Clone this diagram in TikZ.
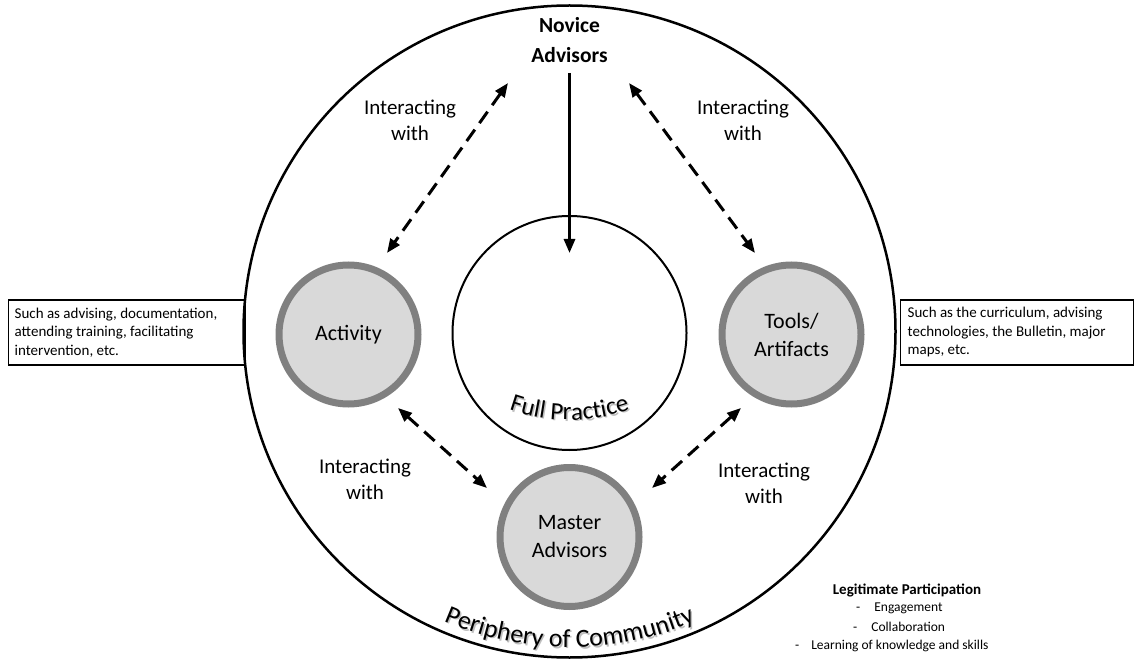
\documentclass[tikz,border=0pt]{standalone}
\usepackage{fontspec}
\setmainfont{Carlito}
\usetikzlibrary{arrows.meta,decorations.text}
\definecolor{cfill}{HTML}{D9D9D9}
\definecolor{cring}{HTML}{808080}
\begin{document}
\begin{tikzpicture}[x=1pt,y=1pt,
  agent/.style={circle, draw=cring, line width=7pt, fill=cfill, minimum size=139pt, inner sep=0pt, align=center, font=\fontsize{22}{28}\selectfont},
  lbl/.style={align=center, font=\fontsize{21}{26}\selectfont},
  sidebox/.style={draw, line width=1.3pt, anchor=west, minimum height=65pt, align=flush left, font=\fontsize{15}{18.5}\selectfont},
  solidarrow/.style={line width=3pt, -{Triangle[length=14pt,width=11pt]}},
  dasharrow/.style={line width=3pt, dash pattern=on 14pt off 8pt, {Triangle[length=14pt,width=11pt]}-{Triangle[length=14pt,width=11pt]}},
  bullet/.style={anchor=west, inner sep=0pt, font=\fontsize{13.5}{16}\selectfont}
]
\useasboundingbox (0,0) rectangle (1138,665);

% side boxes
\node[sidebox, text width=225pt, inner xsep=6pt] (lbox) at (8,332.5) {Such as advising, documentation,\\ attending training, facilitating\\ intervention, etc.};
\node[sidebox, text width=219pt, inner xsep=7pt] (rbox) at (900,332.5) {Such as the curriculum, advising\\ technologies, the Bulletin, major\\ maps, etc.};

% circles
\node[circle, draw, line width=2.5pt, minimum size=652pt, inner sep=0pt] (periph) at (569.5,333.5) {};
\node[circle, draw, line width=2pt, minimum size=234pt, inner sep=0pt] (full) at (569.5,332) {};

\node[agent] (act) at (348.5,330.5) {Activity};
\node[agent] (tools) at (791.5,330.5) {Tools/\\Artifacts};
\node[agent] (master) at (569.5,128) {Master\\Advisors};

\node[align=center, font=\bfseries\fontsize{21.5}{30}\selectfont] (novice) at (569.5,625) {Novice\\Advisors};

% labels
\node[lbl] (ltl) at (410,545) {Interacting\\with};
\node[lbl] (ltr) at (743,545) {Interacting\\with};
\node[lbl] (lbl) at (365,186) {Interacting\\with};
\node[lbl] (lbr) at (764,182) {Interacting\\with};

% connector ends
\coordinate (n1) at (569.5,592);
\coordinate (n2) at (569.5,412);
\coordinate (tl1) at (508,582);
\coordinate (tl2) at (387,412);
\coordinate (tr1) at (629,582);
\coordinate (tr2) at (755,412);
\coordinate (bl1) at (398,257);
\coordinate (bl2) at (487,177);
\coordinate (br1) at (741,257);
\coordinate (br2) at (652,177);

\draw[solidarrow] (n1) -- (n2);
\draw[dasharrow] (tl1) -- (tl2);
\draw[dasharrow] (tr1) -- (tr2);
\draw[dasharrow] (bl1) -- (bl2);
\draw[dasharrow] (br1) -- (br2);

% curved texts (soft shadow first)
\path[decorate, decoration={text along path, text align=center, text color=black!25, text={|\fontsize{25}{25}\selectfont|Full Practice}}]
  (571,423.5) ++(238:180pt) arc[start angle=238, end angle=302, radius=180pt];
\path[decorate, decoration={text along path, text align=center, text color=black, text={|\fontsize{25}{25}\selectfont|Full Practice}}]
  (569.5,425) ++(238:180pt) arc[start angle=238, end angle=302, radius=180pt];

\path[decorate, decoration={text along path, text align=center, text color=black!25, text={|\fontsize{26}{26}\selectfont|Periphery of Community}}]
  (571,332) ++(235:316pt) arc[start angle=235, end angle=305, radius=316pt];
\path[decorate, decoration={text along path, text align=center, text color=black, text={|\fontsize{26}{26}\selectfont|Periphery of Community}}]
  (569.5,333.5) ++(235:316pt) arc[start angle=235, end angle=305, radius=316pt];

% legitimate participation
\node[font=\bfseries\fontsize{15}{18}\selectfont] (legit) at (907,75) {Legitimate Participation};
\node[bullet] (b1) at (856,57) {-\hspace{14pt}Engagement};
\node[bullet] (b2) at (853,38) {-\hspace{14pt}Collaboration};
\node[bullet] (b3) at (795,19) {-\hspace{12pt}Learning of knowledge and skills};
\end{tikzpicture}
\end{document}
